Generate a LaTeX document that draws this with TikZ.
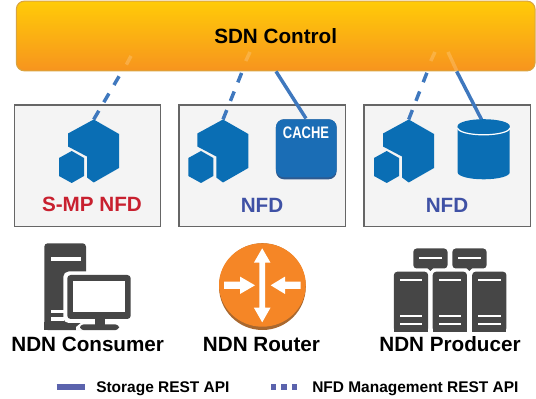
\documentclass[tikz,border=0pt]{standalone}
\usepackage{fontspec}
\setmainfont{Liberation Sans}
\usetikzlibrary{positioning}
\usetikzlibrary{calc}
\definecolor{hex colour}{HTML}{0A6EB4}
\definecolor{line colour}{HTML}{3F78BE}
\definecolor{legend colour}{HTML}{5B63AD}
\definecolor{icon colour}{HTML}{464646}
\definecolor{router colour}{HTML}{F58626}
\definecolor{router edge}{HTML}{A9682F}
\definecolor{cache colour}{HTML}{1A6DB5}
\definecolor{cache edge}{HTML}{2F5A8F}
\definecolor{nfd colour}{HTML}{3F51A5}
\definecolor{smp colour}{HTML}{C8202F}
\definecolor{box fill}{HTML}{F4F4F4}
\definecolor{box edge}{HTML}{666666}
\definecolor{control top}{HTML}{FFCB08}
\definecolor{control bottom}{HTML}{F7941E}
\definecolor{control edge}{HTML}{D9A441}
\tikzset{
    % One unit is one pixel of the picture, y runs downwards
    every node/.style={align=center, font=\bfseries},
    big label/.style={font=\fontsize{15.5pt}{18pt}\bfseries, inner sep=0},
    legend label/.style={font=\fontsize{11.6pt}{14pt}\bfseries, inner sep=0,
        anchor=base west},
    host box/.style={draw=box edge, fill=box fill, line width=1.1pt, rectangle,
        inner sep=0},
    rest/.style={color=line colour, line width=2.6pt},
    rest dash/.style={rest, dash pattern=on 7.6pt off 7.4pt},
    faded/.style={color=white, opacity=0.18, line width=2.6pt},
    icon/.style={fill=icon colour, draw=none},
    slot/.style={fill=white, draw=none},
}
% Big hexagon with a small one beside it, #1 is the top corner
\newcommand{\hexpair}[1]{
    \fill [hex colour] (#1) -- ++(25.3,14.5) -- ++(0,34) -- ++(-25.3,14.5)
        -- ++(-6.7,-5) -- ++(0,-21) -- ++(-19,-10) -- ++(0,-13) -- cycle;
    \fill [hex colour] ($(#1)+(-22,31.5)$) -- ++(12.3,7) -- ++(0,18)
        -- ++(-12.3,7) -- ++(-12.7,-7) -- ++(0,-18) -- cycle;
}
% One tall server of the producer, #1 is its top left corner
\newcommand{\servertower}[1]{
    \fill [icon, rounded corners=2.5pt] (#1) -- ++(0,60) -- ++(34.2,0)
        -- ++(0,-60) -- cycle;
    \fill [icon] ($(#1)+(0,52)$) rectangle ++(34.2,8);
    \fill [slot] ($(#1)+(5.8,7.4)$) rectangle ++(22.6,2);
    \fill [slot] ($(#1)+(5.8,43.3)$) rectangle ++(22.6,2);
    \fill [slot] ($(#1)+(5.8,51.3)$) rectangle ++(22.6,2);
}
\newcommand{\serversmall}[1]{
    \fill [icon, rounded corners=2.5pt] (#1) -- ++(0,20) -- ++(34.2,0)
        -- ++(0,-20) -- cycle;
    \fill [icon] ($(#1)+(14,19.5)$) -- ++(6,0) -- ++(-3,3) -- cycle;
    \fill [slot] ($(#1)+(5.8,8.4)$) rectangle ++(22.6,2);
}

\begin{document}
\begin{tikzpicture}[x=0.75pt, y=-0.75pt]

\useasboundingbox (0,0) rectangle (536,399);

% Ends of the connectors on the icons
\path
    (93.7,119.5) coordinate (nfd consumer)
    (223,119.5) coordinate (nfd router)
    (408.7,119.5) coordinate (nfd producer)
    (306,118.5) coordinate (cache top)
    (481.5,119.5) coordinate (store top);

\path
    (87.7,165.9) node [host box, minimum width=109.5pt, minimum height=91pt]
        (box consumer) {}
    (262.15,165.9) node [host box, minimum width=124.7pt, minimum height=91pt]
        (box router) {}
    (447.35,165.9) node [host box, minimum width=125pt, minimum height=91pt]
        (box producer) {};

\path
    (275.7,36) node [
        draw=control edge, line width=0.8pt, rounded corners=6pt,
        top color=control top, bottom color=control bottom,
        minimum width=389pt, minimum height=52.3pt, inner sep=0,
        big label] (control) {\raisebox{0.6pt}{SDN Control}};

% Connectors, the part over the control box is only faintly visible
\path
    (131,56) coordinate (fade a)
    (250,52) coordinate (fade b)
    (435,52) coordinate (fade c)
    (448,52) coordinate (fade d);
\draw [faded] (fade a) -- ++(-4.6,8.6);
\draw [faded] (fade b) -- ++(-4.2,9);
\draw [faded] (fade c) -- ++(-4.2,9);
\draw [faded] (fade d) -- ++(8.8,19);

\draw [rest dash] (nfd consumer) -- ($(nfd consumer)!0.72!(fade a)$);
\draw [rest dash] (nfd router) -- ($(nfd router)!0.72!(fade b)$);
\draw [rest dash] (nfd producer) -- ($(nfd producer)!0.72!(fade c)$);
\draw [rest] (cache top) -- (control.south -| 276,0);
\draw [rest] (store top) -- (control.south -| 456.7,0);

\hexpair{nfd consumer}
\hexpair{nfd router}
\hexpair{nfd producer}

% Cache
\node [fill=cache edge, rounded corners=6pt, minimum width=45.5pt,
    minimum height=45pt, inner sep=0] (cache shadow) at (306.3,149.3) {};
\node [fill=cache colour, rounded corners=6pt, minimum width=45.5pt,
    minimum height=43.5pt, inner sep=0, anchor=north] (cache)
    at (cache shadow.north) {};
\node [text=white, inner sep=0, xscale=0.78, transform shape,
    font=\fontsize{12.5pt}{14pt}\bfseries] (cache label) at (306,132.5)
    {CACHE};

% Storage
\fill [hex colour] (457.7,126) -- (457.7,172.5) arc [start angle=180,
    end angle=0, x radius=26, y radius=6.8] -- (509.7,126) -- cycle;
\draw [white, line width=0.9pt] (457.7,128) arc [start angle=180,
    end angle=0, x radius=26, y radius=6.8];
\fill [hex colour] (483.7,126) ellipse [x radius=26, y radius=6.8];

\node [big label, text=smp colour] (smp label) at (92,204.5) {S-MP NFD};
\node [big label, text=nfd colour] (nfd label a) at (262,205) {NFD};
\node [big label, text=nfd colour] (nfd label b) at (447,205) {NFD};

% Consumer
\fill [icon, rounded corners=2.5pt] (44.3,330) -- (44.3,243.3) -- (86,243.3)
    -- (86,330) -- cycle;
\fill [icon] (44.3,322) rectangle (86,330);
\fill [slot] (50.7,256.7) rectangle (80.7,261);
\fill [white, rounded corners=4pt] (63.3,271.5) rectangle (134,323);
\fill [white] (86,322) rectangle (134,334);
\fill [white] (76,330.5) -- (76,327) -- (82,322) -- (90,322) -- (90,330.5) -- cycle;
\fill [slot] (50.7,310) rectangle (64,313);
\fill [slot] (50.7,317.5) rectangle (64,321);
\fill [icon, rounded corners=2.5pt] (67.3,275) rectangle (130.7,319);
\fill [white] (73.3,281) rectangle (125,311.7);
\fill [icon] (95,318) rectangle (105,326);
\fill [icon, rounded corners=2.5pt] (80,324.5) rectangle (119,330);

% Router
\fill [router edge] (262.4,286.6) circle [radius=43.4];
\fill [router colour] (262.4,285) ellipse [x radius=43.4, y radius=41.7];
\fill [white] (262.2,248.3) -- ++(8.3,14.4) -- ++(-5.5,0) -- ++(0,45)
    -- ++(5.5,0) -- ++(-8.3,14.6) -- ++(-8.3,-14.6) -- ++(5.5,0)
    -- ++(0,-45) -- ++(-5.5,0) -- cycle;
\fill [white] (255,285.3) -- ++(-15,-8.7) -- ++(0,5) -- ++(-16,0)
    -- ++(0,7.4) -- ++(16,0) -- ++(0,5) -- cycle;
\fill [white] (270.7,285.3) -- ++(14.3,-8.7) -- ++(0,5) -- ++(15.7,0)
    -- ++(0,7.4) -- ++(-15.7,0) -- ++(0,5) -- cycle;

% Producer
\serversmall{413.3,248.5}
\serversmall{452.4,248.5}
\servertower{393.9,271.7}
\servertower{432.7,271.7}
\servertower{472.2,271.7}

\path
    (87.7,344.5) node [big label] (consumer label) {NDN Consumer}
    (261.5,344.5) node [big label] (router label) {NDN Router}
    (450,344.5) node [big label] (producer label) {NDN Producer};

% Legend
\path
    (56.7,387) coordinate (solid start)
    (85.3,387) coordinate (solid end)
    (271,387) coordinate (dots start)
    (297,387) coordinate (dots end);
\draw [color=legend colour, line width=3.8pt] (solid start) -- (solid end);
\draw [color=legend colour, line width=3.8pt, dash pattern=on 4.1pt off 3.7pt]
    (dots start) -- (dots end);
\path
    (96,392.5) node [legend label] (storage label) {Storage REST API}
    (312,392.5) node [legend label] (nfd legend label)
        {NFD Management REST API};

\end{tikzpicture}
\end{document}
